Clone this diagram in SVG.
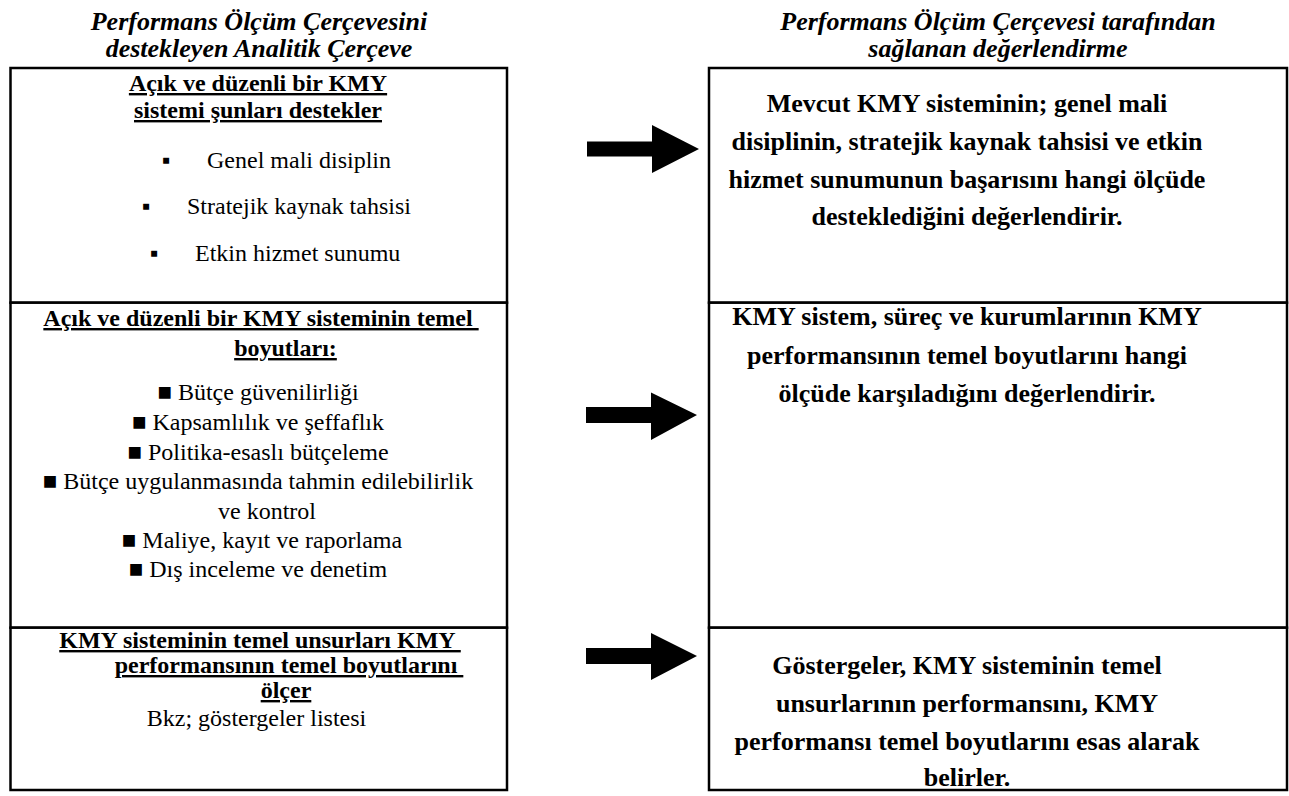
<svg xmlns="http://www.w3.org/2000/svg" width="1289" height="796" viewBox="0 0 1289 796" font-family="'Liberation Serif', Tinos, 'Times New Roman', 'DejaVu Serif', serif">
<style>
text{font-family:"Liberation Serif",Tinos,"Times New Roman","DejaVu Serif",serif;fill:#000}
.ttl{font-size:26px;font-weight:bold;font-style:italic;text-anchor:middle}
.h{font-size:24px;font-weight:bold;text-decoration:underline}
.n{font-size:24px}
.r{font-size:26px;font-weight:bold;text-anchor:middle}
.m{text-anchor:middle}
.cell{fill:#fff;stroke:#000;stroke-width:2.5}
.arr{fill:#000}
</style>
<rect width="1289" height="796" fill="#fff"/>
<g id="title-left"><text class="ttl" x="259" y="30">Performans Ölçüm Çerçevesini</text><text class="ttl" x="259" y="57">destekleyen Analitik Çerçeve</text></g>
<g id="title-right"><text class="ttl" x="998" y="30">Performans Ölçüm Çerçevesi tarafından</text><text class="ttl" x="998" y="57">sağlanan değerlendirme</text></g>
<g id="left-1">
<rect class="cell" x="10.5" y="68" width="496.5" height="234.7"/>
<text class="h m" x="258" y="91">Açık ve düzenli bir KMY</text>
<text class="h m" x="258" y="118">sistemi şunları destekler</text>
<text class="n" x="162" y="168">▪</text><text class="n" x="207" y="168">Genel mali disiplin</text>
<text class="n" x="142" y="214">▪</text><text class="n" x="187" y="214">Stratejik kaynak tahsisi</text>
<text class="n" x="150" y="261">▪</text><text class="n" x="195" y="261">Etkin hizmet sunumu</text>
</g>
<g id="left-2">
<rect class="cell" x="10.5" y="302.7" width="496.5" height="325"/>
<text class="h m" x="261" y="326" xml:space="preserve">Açık ve düzenli bir KMY sisteminin temel </text>
<text class="h m" x="285.5" y="356">boyutları:</text>
<text class="n m" x="258" y="400">■ Bütçe güvenilirliği</text>
<text class="n m" x="258" y="430">■ Kapsamlılık ve şeffaflık</text>
<text class="n m" x="258" y="459.5">■ Politika-esaslı bütçeleme</text>
<text class="n m" x="258" y="489">■ Bütçe uygulanmasında tahmin edilebilirlik</text>
<text class="n m" x="267" y="518.5">ve kontrol</text>
<text class="n m" x="262" y="548">■ Maliye, kayıt ve raporlama</text>
<text class="n m" x="258" y="577">■ Dış inceleme ve denetim</text>
</g>
<g id="left-3">
<rect class="cell" x="10.5" y="627.7" width="496.5" height="162.3"/>
<text class="h m" x="260" y="648" xml:space="preserve">KMY sisteminin temel unsurları KMY </text>
<text class="h m" x="289" y="673" xml:space="preserve">performansının temel boyutlarını </text>
<text class="h m" x="286" y="698">ölçer</text>
<text class="n m" x="256.5" y="726">Bkz; göstergeler listesi</text>
</g>
<g id="right-1">
<rect class="cell" x="709" y="68" width="578" height="234.7"/>
<text class="r" x="967" y="112">Mevcut KMY sisteminin; genel mali</text>
<text class="r" x="967" y="150">disiplinin, stratejik kaynak tahsisi ve etkin</text>
<text class="r" x="967" y="188">hizmet sunumunun başarısını hangi ölçüde</text>
<text class="r" x="967" y="225">desteklediğini değerlendirir.</text>
</g>
<g id="right-2">
<rect class="cell" x="709" y="302.7" width="578" height="325"/>
<text class="r" x="967" y="325">KMY sistem, süreç ve kurumlarının KMY</text>
<text class="r" x="967" y="364">performansının temel boyutlarını hangi</text>
<text class="r" x="967" y="402">ölçüde karşıladığını değerlendirir.</text>
</g>
<g id="right-3">
<rect class="cell" x="709" y="627.7" width="578" height="162.3"/>
<text class="r" x="967" y="674">Göstergeler, KMY sisteminin temel</text>
<text class="r" x="967" y="712">unsurlarının performansını, KMY</text>
<text class="r" x="967" y="750">performansı temel boyutlarını esas alarak</text>
<text class="r" x="967" y="786">belirler.</text>
</g>
<g id="connectors">
<polygon class="arr" points="587,141.5 652,141.5 652,125 699,149 652,173 652,156.5 587,156.5"/>
<polygon class="arr" points="586,407 651,407 651,392.5 697,415 651,440 651,423 586,423"/>
<polygon class="arr" points="586,648 651,648 651,633 697,656 651,680 651,664 586,664"/>
</g>
</svg>
